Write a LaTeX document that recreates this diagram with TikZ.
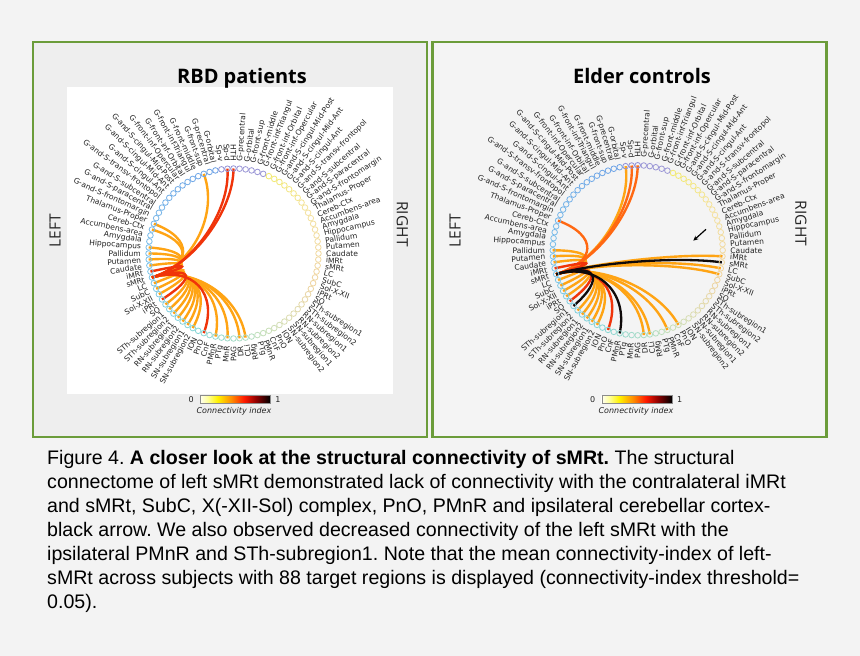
\documentclass[tikz,border=0pt]{standalone}
\usepackage{fontspec}
\setmainfont{Liberation Sans}
\newfontfamily\dejavu{DejaVu Sans}
\newfontfamily\opensans{Open Sans}
\usetikzlibrary{calc,arrows.meta}
\frenchspacing
\definecolor{bgc}{HTML}{F3F3F3}
\definecolor{pinA}{HTML}{EEEEEE}
\definecolor{pinB}{HTML}{F4F4F4}
\definecolor{pgreen}{HTML}{6B9C3A}
\definecolor{labc}{HTML}{222222}
\definecolor{chorange}{RGB}{255,164,20}
\definecolor{chorangered}{RGB}{255,104,18}
\definecolor{chred}{RGB}{240,52,10}
\definecolor{chblack}{RGB}{15,10,10}
\definecolor{nPur}{HTML}{9191D6}
\definecolor{nB1}{HTML}{6EA2E6}
\definecolor{nB2}{HTML}{7CC2EA}
\definecolor{nB3}{HTML}{86D6D6}
\definecolor{nB4}{HTML}{B4DEC0}
\definecolor{nPur2}{HTML}{9A96D6}
\definecolor{nY1}{HTML}{F2EA6E}
\definecolor{nY2}{HTML}{F4E2A0}
\definecolor{nY3}{HTML}{EFD4A0}
\definecolor{nY4}{HTML}{DCDCB0}
\definecolor{nY5}{HTML}{C0E0BC}
\definecolor{cb0}{HTML}{FFFFF4}
\definecolor{cb1}{HTML}{FFFF90}
\definecolor{cb2}{HTML}{FFF200}
\definecolor{cb3}{HTML}{FF8C00}
\definecolor{cb4}{HTML}{FF1A00}
\definecolor{cb5}{HTML}{900000}
\definecolor{cb6}{HTML}{000000}
\pgfdeclarehorizontalshading{hotr}{100bp}{color(0bp)=(cb0); color(25bp)=(cb0); color(31bp)=(cb1); color(37.5bp)=(cb2); color(47.5bp)=(cb3); color(56.5bp)=(cb4); color(65bp)=(cb5); color(75bp)=(cb6); color(100bp)=(cb6)}
\pgfdeclarelayer{back}
\pgfdeclarelayer{chordlayer}
\pgfsetlayers{back,chordlayer,main}

\newcommand\ringcolL[1]{%
  \ifnum#1<3\relax \colorlet{nc}{nPur}%
  \else\ifnum#1<24\relax \pgfmathtruncatemacro\pp{100-100*(#1-3)/21}\colorlet{nc}{nB1!\pp!nB2}%
  \else\ifnum#1<38\relax \pgfmathtruncatemacro\pp{100-100*(#1-24)/14}\colorlet{nc}{nB2!\pp!nB3}%
  \else \pgfmathtruncatemacro\pp{100-100*(#1-38)/9}\colorlet{nc}{nB3!\pp!nB4}%
  \fi\fi\fi}
\newcommand\ringcolR[1]{%
  \ifnum#1<5\relax \colorlet{nc}{nPur2}%
  \else\ifnum#1<14\relax \pgfmathtruncatemacro\pp{100-100*(#1-5)/9}\colorlet{nc}{nY1!\pp!nY2}%
  \else\ifnum#1<26\relax \pgfmathtruncatemacro\pp{100-100*(#1-14)/12}\colorlet{nc}{nY2!\pp!nY3}%
  \else\ifnum#1<33\relax \pgfmathtruncatemacro\pp{100-100*(#1-26)/7}\colorlet{nc}{nY3!\pp!nY4}%
  \else \pgfmathtruncatemacro\pp{100-100*(#1-33)/6}\colorlet{nc}{nY4!\pp!nY5}%
  \fi\fi\fi\fi}

\newcommand\drawring[3]{%
  \coordinate (#1c) at (#2,#3);
  \foreach \lab [count=\i from 0] in {HTH,Sp-d,Sp-v,G-orbital,G-precentral,G-front-sup,G-front-middle,G-front-inf-Triangul,G-front-inf-Orbital,G-front-inf-Opercular,G-and-S-cingul-Mid-Post,G-and-S-cingul-Mid-Ant,G-and-S-cingul-Ant,G-and-S-transv-frontopol,G-and-S-subcentral,G-and-S-paracentral,G-and-S-frontomargin,Thalamus-Proper,Cereb-Ctx,Accumbens-area,Amygdala,Hippocampus,Pallidum,Putamen,Caudate,iMRt,sMRt,LC,SubC,Sol-X-XII,iPRt,SO,STh-subregion1,STh-subregion2,RN-subregion1,RN-subregion2,SN-subregion1,SN-subregion2,ION,PnO,CnF,PMnR,PTg,MnR,PAG,DR,CLi,RMg}{%
    \pgfmathsetmacro\ang{90+\i*4.090909}%
    \ringcolL{\i}%
    \node[ringnode,draw=nc] (#1l\i) at ($(#1c)+(\ang:85)$) {};
    \node[labL,rotate=\ang-180] (#1lt\i) at ($(#1c)+(\ang:92.5)$) {\lab};
  }
  \foreach \lab [count=\k from 0] in {G-precentral,G-orbital,G-front-sup,G-front-middle,G-front-inf-Triangul,G-front-inf-Orbital,G-front-inf-Opercular,G-and-S-cingul-Mid-Post,G-and-S-cingul-Mid-Ant,G-and-S-cingul-Ant,G-and-S-transv-frontopol,G-and-S-subcentral,G-and-S-paracentral,G-and-S-frontomargin,Thalamus-Proper,Cereb-Ctx,Accumbens-area,Amygdala,Hippocampus,Pallidum,Putamen,Caudate,iMRt,sMRt,LC,SubC,Sol-X-XII,iPRt,SO,STh-subregion1,STh-subregion2,RN-subregion1,RN-subregion2,SN-subregion1,SN-subregion2,ION,PnO,CnF,PMnR,PTg}{%
    \pgfmathsetmacro\ang{90-(\k+1)*4.090909}%
    \ringcolR{\k}%
    \node[ringnode,draw=nc] (#1r\k) at ($(#1c)+(\ang:85)$) {};
    \node[labR,rotate=\ang] (#1rt\k) at ($(#1c)+(\ang:92.5)$) {\lab};
  }
}
\newcommand\chordset[3]{%
  \foreach \tg in {#3}{%
    \draw[#1] (#2l26.center) .. controls ($(#2c)!0.5!(#2l26.center)$) and ($(#2c)!0.5!(#2\tg.center)$) .. (#2\tg.center);
  }}

\begin{document}
\begin{tikzpicture}[x=1pt,y=1pt,
  ringnode/.style={circle,inner sep=0pt,minimum size=5.6pt,line width=0.8pt},
  labL/.style={anchor=east,inner sep=0pt,font=\dejavu\fontsize{7.6}{8}\selectfont,text=labc},
  labR/.style={anchor=west,inner sep=0pt,font=\dejavu\fontsize{7.6}{8}\selectfont,text=labc},
  chO/.style={line width=2.4pt,draw=chorange},
  chOR/.style={line width=2.4pt,draw=chorangered},
  chR/.style={line width=2.4pt,draw=chred},
  chK/.style={line width=2.3pt,draw=chblack},
  panelbox/.style={draw=pgreen,line width=2.8pt,minimum width=394pt,minimum height=395pt,inner sep=0pt},
  plotarea/.style={fill=white,minimum width=326pt,minimum height=307pt,inner sep=0pt},
  titlet/.style={anchor=base,font=\opensans\bfseries\fontsize{20}{24}\selectfont,text=black},
  sidet/.style={font=\opensans\fontsize{15.5}{16}\selectfont,text=black!85,inner sep=0pt},
  cbar/.style={shade,shading=hotr,draw=black!45,line width=0.4pt,minimum width=70pt,minimum height=8.3pt,inner sep=0pt},
  cbtick/.style={font=\dejavu\fontsize{8}{9}\selectfont,text=labc,inner sep=0pt},
  cblab/.style={font=\dejavu\itshape\fontsize{8}{9}\selectfont,text=labc,inner sep=0pt},
  capt/.style={anchor=base west,inner sep=0pt,font=\fontsize{19.6}{24}\selectfont,text=black}
]
\useasboundingbox (0,0) rectangle (860,656);
\begin{pgfonlayer}{back}
\fill[bgc] (0,0) rectangle (860,656);
\node[panelbox,fill=pinA] (Apanel) at (230,416.5) {};
\node[panelbox,fill=pinB] (Bpanel) at (629.5,416.5) {};
\node[plotarea] (Aplot) at (230,415.5) {};
\end{pgfonlayer}

% titles and side labels
\node[titlet] (Atitle) at (242,572) {RBD patients};
\node[titlet] (Btitle) at (642,572) {Elder controls};
\node[sidet,rotate=90] (Aleft) at (55,425.5) {LEFT};
\node[sidet,rotate=-90] (Aright) at (402.5,432) {RIGHT};
\node[sidet,rotate=90] (Bleft) at (455,425) {LEFT};
\node[sidet,rotate=-90] (Bright) at (801,432.5) {RIGHT};

% rings
\drawring{A}{233.5}{402.5}
\drawring{B}{637.7}{405.7}

% chords
\begin{pgfonlayer}{chordlayer}
\chordset{chO}{A}{l5,l17,l18,l21,l22,l23,l24,l27,l28,l29,l31,l32,l33,l34,l35,l36,l37,l41,l43,l45,l46}
\chordset{chR}{A}{l0,l1,l25,l30,l39}
\chordset{chO}{B}{l2,l22,l23,l24,l27,l28,l29,l30,l33,l34,l35,l36,l37,l45,l46,r22,r24,r25,r36,r38}
\chordset{chOR}{B}{l0,l1,l17}
\chordset{chR}{B}{l25,l31,l39}
\chordset{chK}{B}{l32,l41,r23}
\end{pgfonlayer}

% arrow
\coordinate (BarS) at (706,426.7);
\coordinate (BarE) at (693.3,415.3);
\draw[line width=1.2pt,-{Stealth[length=5pt,width=4.5pt]}] (BarS) -- (BarE);

% colorbars
\node[cbar] (Acb) at (235,256.8) {};
\node[cbtick,anchor=east] (Acb0) at ([xshift=-6pt]Acb.west) {0};
\node[cbtick,anchor=west] (Acb1) at ([xshift=5pt]Acb.east) {1};
\node[cblab] (Acbl) at (234,244.3) {Connectivity index};
\node[cbar] (Bcb) at (636.7,256.8) {};
\node[cbtick,anchor=east] (Bcb0) at ([xshift=-6pt]Bcb.west) {0};
\node[cbtick,anchor=west] (Bcb1) at ([xshift=5pt]Bcb.east) {1};
\node[cblab] (Bcbl) at (636,244.3) {Connectivity index};

% caption
\node[capt] (cap1) at (47,191) {Figure 4. \textbf{A closer look at the structural connectivity of sMRt.} The structural};
\node[capt] (cap2) at (47,167) {connectome of left sMRt demonstrated lack of connectivity with the contralateral iMRt};
\node[capt] (cap3) at (47,143) {and sMRt, SubC, X(-XII-Sol) complex, PnO, PMnR and ipsilateral cerebellar cortex-};
\node[capt] (cap4) at (47,119) {black arrow. We also observed decreased connectivity of the left sMRt with the};
\node[capt] (cap5) at (47,95) {ipsilateral PMnR and STh-subregion1. Note that the mean connectivity-index of left-};
\node[capt] (cap6) at (47,71) {sMRt across subjects with 88 target regions is displayed (connectivity-index threshold=};
\node[capt] (cap7) at (47,47) {0.05).};
\end{tikzpicture}
\end{document}
